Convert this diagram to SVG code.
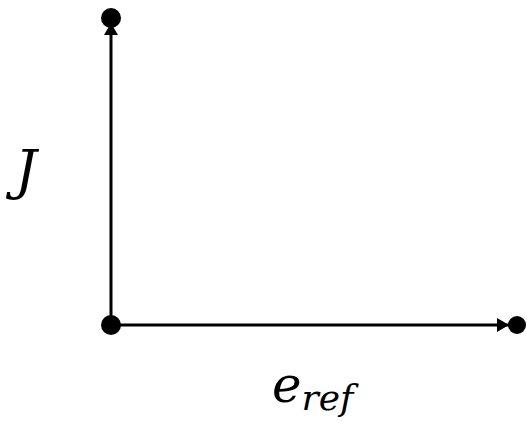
<svg xmlns="http://www.w3.org/2000/svg" width="527" height="426" viewBox="0 0 527 426">
<style>
.ax{stroke:#000;stroke-width:3;fill:none}
.dot{fill:#000}
.lbl{font-family:'DejaVu Serif',serif;font-style:italic;fill:#000}
</style>
<defs>
<marker id="ah" viewBox="0 0 12 14" refX="12" refY="7" markerWidth="12" markerHeight="14" markerUnits="userSpaceOnUse" orient="auto">
<path d="M0,0 L12,7 L0,14 z" fill="#000"/>
</marker>
</defs>
<rect width="527" height="426" fill="#fff"/>
<g id="connectors">
<line class="ax" x1="111" y1="325" x2="111" y2="23" marker-end="url(#ah)"/>
<line class="ax" x1="111" y1="325" x2="509" y2="325" marker-end="url(#ah)"/>
</g>
<g id="origin"><circle class="dot" cx="111" cy="325" r="10"/></g>
<g id="top"><circle class="dot" cx="111" cy="18" r="10"/></g>
<g id="right"><circle class="dot" cx="517" cy="325" r="9"/></g>
<g id="label-J"><text class="lbl" x="15" y="189" font-size="54">J</text></g>
<g id="label-eref"><text class="lbl" x="272" y="402" font-size="50">e<tspan font-size="36" dy="8">ref</tspan></text></g>
</svg>
